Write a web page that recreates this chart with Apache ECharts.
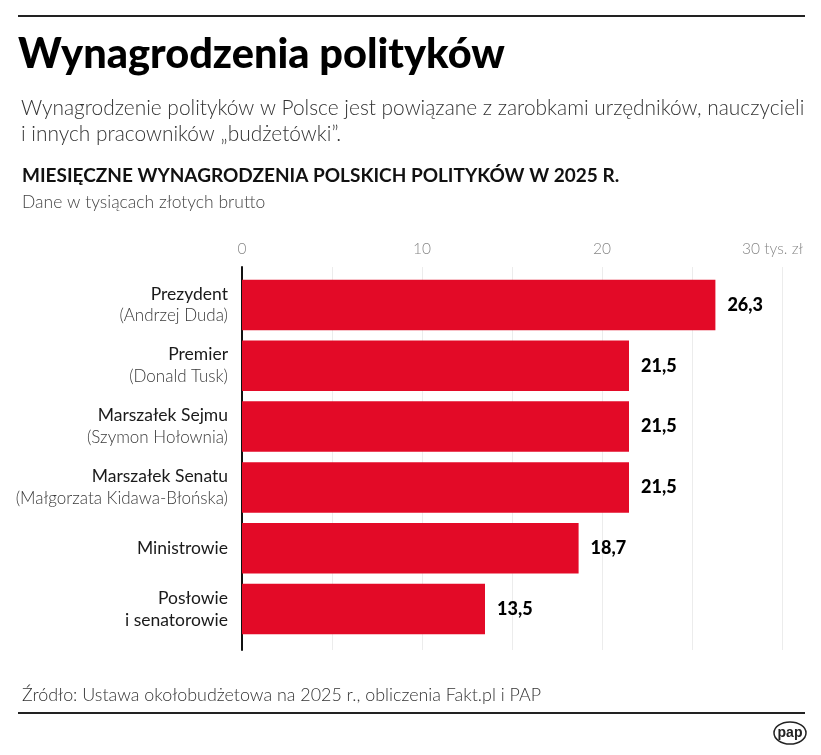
<!DOCTYPE html>
<html><head><meta charset="utf-8">
<script src="https://cdn.jsdelivr.net/npm/echarts@6/dist/echarts.min.js"></script>
<style>html,body{margin:0;padding:0;background:#fff}#c{width:821px;height:755px}</style>
</head><body><div id="c"></div>
<script>
const categories = ['Prezydent\n(Andrzej Duda)', 'Premier\n(Donald Tusk)', 'Marszałek Sejmu\n(Szymon Hołownia)', 'Marszałek Senatu\n(Małgorzata Kidawa-Błońska)', 'Ministrowie', 'Posłowie\ni senatorowie'];
const values = [26.3, 21.5, 21.5, 21.5, 18.7, 13.5];
const tickLabels = {0: '0', 10: '10', 20: '20', 30: '30 tys. zł'};

const FONT = 'Lato';
const chart = echarts.init(document.getElementById('c'), null, {renderer: 'canvas'});

function catLabel(v) {
  const parts = v.split('\n');
  if (parts[1] && parts[1].startsWith('(')) return '{a|' + parts[0] + '}\n{b|' + parts[1] + '}';
  return parts.map(p => '{a|' + p + '}').join('\n');
}

chart.setOption({
  animation: false,
  textStyle: {fontFamily: FONT},
  title: [
    {text: 'Wynagrodzenia polityków', left: 13, top: 29, textStyle: {fontFamily: FONT, fontSize: 41.5, fontWeight: 900, color: '#000'}},
    {text: 'Wynagrodzenie polityków w Polsce jest powiązane z zarobkami urzędników, nauczycieli\ni innych pracowników „budżetówki”.', left: 16, top: 90, textStyle: {fontFamily: FONT, fontSize: 20.9, fontWeight: 300, color: '#333', lineHeight: 26}},
    {text: 'MIESIĘCZNE WYNAGRODZENIA POLSKICH POLITYKÓW W 2025 R.', left: 17, top: 161, textStyle: {fontFamily: FONT, fontSize: 19, fontWeight: 'bold', color: '#111'}},
    {text: 'Dane w tysiącach złotych brutto', left: 17, top: 188, textStyle: {fontFamily: FONT, fontSize: 17.5, fontWeight: 300, color: '#444'}},
    {text: 'Źródło: Ustawa okołobudżetowa na 2025 r., obliczenia Fakt.pl i PAP', left: 17, top: 681, textStyle: {fontFamily: FONT, fontSize: 17.9, fontWeight: 300, color: '#333'}}
  ],
  graphic: [
    {type: 'line', shape: {x1: 18, y1: 16, x2: 805, y2: 16}, style: {stroke: '#222', lineWidth: 2}},
    {type: 'line', shape: {x1: 18, y1: 713, x2: 805, y2: 713}, style: {stroke: '#222', lineWidth: 2}},
    {type: 'ellipse', shape: {cx: 790, cy: 733, rx: 16, ry: 11}, style: {fill: '#fff', stroke: '#222', lineWidth: 1.5}},
    {type: 'text', x: 790, y: 733, style: {text: 'pap', fontFamily: 'Liberation Sans', fontWeight: 'bold', fontSize: 14, fill: '#222', textAlign: 'center', textVerticalAlign: 'middle'}}
  ],
  grid: [
    {left: 242, right: 39, top: 267, bottom: 105},
    {left: 242, right: 39, top: 274.6, bottom: 115.6}
  ],
  xAxis: [
    {type: 'value', gridIndex: 0, position: 'top', min: 0, max: 30, interval: 5,
     axisLine: {show: false}, axisTick: {show: false},
     splitLine: {show: true, lineStyle: {color: '#ececec', width: 1}},
     axisLabel: {margin: 10, fontFamily: FONT, fontSize: 15.5, fontWeight: 300, color: '#888',
       formatter: v => tickLabels[v] !== undefined ? (v === 30 ? '{l|' + tickLabels[v] + '}' : tickLabels[v]) : '',
       rich: {l: {fontFamily: FONT, fontSize: 15.5, fontWeight: 300, color: '#888', padding: [0, 19, 0, 0]}}}},
    {type: 'value', gridIndex: 1, min: 0, max: 30, show: false}
  ],
  yAxis: [
    {type: 'value', gridIndex: 0, min: 0, max: 1, axisLine: {show: true, onZero: false, lineStyle: {color: '#111', width: 2}},
     axisTick: {show: false}, axisLabel: {show: false}, splitLine: {show: false}},
    {type: 'category', gridIndex: 1, data: categories, inverse: true,
     axisLine: {show: false}, axisTick: {show: false},
     axisLabel: {margin: 14, formatter: catLabel,
       rich: {a: {fontFamily: FONT, fontSize: 17.5, color: '#1a1a1a', lineHeight: 22, align: 'right'},
              b: {fontFamily: FONT, fontSize: 17, fontWeight: 300, color: '#3a3a3a', lineHeight: 22, align: 'right'}}}}
  ],
  series: [
    {type: 'bar', xAxisIndex: 1, yAxisIndex: 1, data: values, barWidth: 50.5,
     itemStyle: {color: '#e30a27'},
     label: {show: true, position: 'right', distance: 12, formatter: p => String(p.value).replace('.', ','),
       fontFamily: FONT, fontSize: 18, fontWeight: 900, color: '#000'}}
  ]
});
</script></body></html>
